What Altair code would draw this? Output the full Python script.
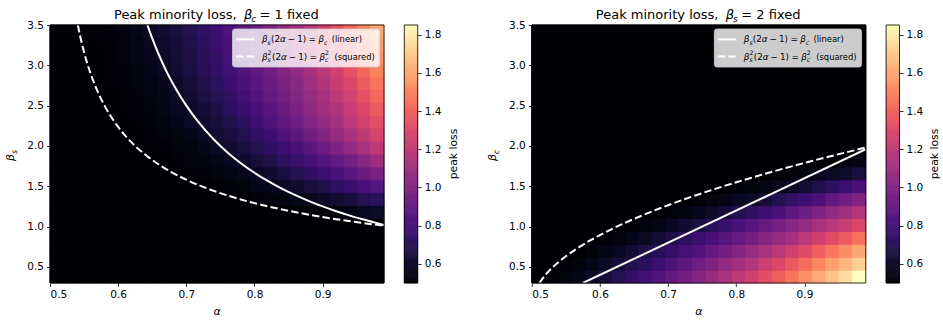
import altair as alt
import pandas as pd

FONT = "DejaVu Sans"

# ---------------- data ----------------
alpha_centers = [0.5098, 0.5294, 0.5490, 0.5686, 0.5882, 0.6078, 0.6274, 0.6470, 0.6666, 0.6862,
                 0.7058, 0.7254, 0.7450, 0.7646, 0.7842, 0.8038, 0.8234, 0.8430, 0.8626, 0.8822,
                 0.9018, 0.9214, 0.9410, 0.9606, 0.9802]
beta_centers = [0.38, 0.54, 0.70, 0.86, 1.02, 1.18, 1.34, 1.50, 1.66, 1.82,
                1.98, 2.14, 2.30, 2.46, 2.62, 2.78, 2.94, 3.10, 3.26, 3.42]

# rows: bottom (beta=0.38) to top (beta=3.42); columns: alpha low -> high
left_loss = [
    [0.50] * 25,
    [0.50] * 25,
    [0.50] * 25,
    [0.50] * 25,
    [0.50] * 25,
    [0.50] * 19 + [0.51, 0.53, 0.54, 0.56, 0.58, 0.60],
    [0.50] * 15 + [0.51, 0.53, 0.54, 0.56, 0.57, 0.60, 0.62, 0.65, 0.69, 0.72],
    [0.50] * 12 + [0.51, 0.52, 0.53, 0.55, 0.57, 0.59, 0.62, 0.65, 0.68, 0.72, 0.76, 0.81, 0.85],
    [0.50] * 10 + [0.51, 0.52, 0.53, 0.55, 0.57, 0.59, 0.62, 0.65, 0.69, 0.73, 0.77, 0.82, 0.87, 0.92, 0.97],
    [0.50] * 9 + [0.51, 0.53, 0.54, 0.56, 0.58, 0.61, 0.64, 0.68, 0.72, 0.76, 0.80, 0.85, 0.90, 0.95, 1.02, 1.09],
    [0.50] * 7 + [0.51, 0.51, 0.53, 0.54, 0.56, 0.59, 0.62, 0.65, 0.69, 0.73, 0.77, 0.81, 0.87, 0.93, 0.99, 1.06, 1.13, 1.20],
    [0.50] * 7 + [0.51, 0.53, 0.54, 0.56, 0.59, 0.62, 0.65, 0.69, 0.73, 0.77, 0.83, 0.88, 0.94, 1.00, 1.07, 1.13, 1.20, 1.28],
    [0.50] * 6 + [0.51, 0.52, 0.54, 0.56, 0.59, 0.62, 0.65, 0.68, 0.72, 0.78, 0.83, 0.88, 0.94, 1.00, 1.06, 1.12, 1.19, 1.26, 1.33],
    [0.50] * 5 + [0.51, 0.52, 0.53, 0.55, 0.58, 0.60, 0.63, 0.67, 0.72, 0.76, 0.81, 0.87, 0.92, 0.98, 1.04, 1.10, 1.16, 1.23, 1.30, 1.38],
    [0.50] * 5 + [0.51, 0.52, 0.54, 0.56, 0.59, 0.62, 0.66, 0.70, 0.74, 0.79, 0.84, 0.90, 0.95, 1.01, 1.07, 1.13, 1.20, 1.27, 1.34, 1.42],
    [0.50] * 4 + [0.51, 0.52, 0.53, 0.55, 0.57, 0.60, 0.64, 0.68, 0.72, 0.77, 0.82, 0.87, 0.92, 0.97, 1.03, 1.10, 1.16, 1.23, 1.30, 1.38, 1.46],
    [0.50] * 4 + [0.51, 0.52, 0.54, 0.56, 0.59, 0.62, 0.66, 0.70, 0.74, 0.79, 0.84, 0.89, 0.94, 1.00, 1.06, 1.12, 1.19, 1.26, 1.34, 1.42, 1.50],
    [0.50] * 4 + [0.51, 0.53, 0.55, 0.57, 0.60, 0.63, 0.67, 0.71, 0.75, 0.80, 0.85, 0.90, 0.96, 1.02, 1.08, 1.15, 1.22, 1.29, 1.36, 1.45, 1.53],
    [0.50] * 3 + [0.51, 0.51, 0.53, 0.55, 0.58, 0.61, 0.64, 0.68, 0.72, 0.77, 0.81, 0.86, 0.92, 0.97, 1.03, 1.10, 1.17, 1.24, 1.32, 1.39, 1.48, 1.57],
    [0.50] * 2 + [0.51, 0.51, 0.52, 0.54, 0.56, 0.59, 0.62, 0.65, 0.69, 0.73, 0.78, 0.83, 0.88, 0.93, 0.99, 1.06, 1.12, 1.19, 1.26, 1.34, 1.43, 1.51, 1.60],
]

right_loss = [
    [0.50, 0.51, 0.53, 0.56, 0.60, 0.64, 0.69, 0.74, 0.79, 0.84, 0.90, 0.95, 1.01, 1.07, 1.13, 1.20, 1.26, 1.33, 1.39, 1.46, 1.54, 1.61, 1.68, 1.76, 1.85],
    [0.50, 0.50, 0.51, 0.53, 0.56, 0.60, 0.64, 0.68, 0.72, 0.77, 0.83, 0.88, 0.94, 0.99, 1.06, 1.11, 1.17, 1.24, 1.30, 1.37, 1.44, 1.51, 1.58, 1.65, 1.72],
    [0.50] * 4 + [0.52, 0.55, 0.58, 0.62, 0.67, 0.71, 0.75, 0.80, 0.84, 0.90, 0.95, 1.01, 1.07, 1.13, 1.19, 1.26, 1.32, 1.39, 1.46, 1.53, 1.60],
    [0.50] * 5 + [0.51, 0.53, 0.56, 0.59, 0.63, 0.67, 0.72, 0.77, 0.81, 0.86, 0.91, 0.96, 1.02, 1.07, 1.12, 1.19, 1.25, 1.32, 1.38, 1.45],
    [0.50] * 7 + [0.51, 0.53, 0.55, 0.58, 0.62, 0.66, 0.71, 0.76, 0.81, 0.86, 0.91, 0.96, 1.02, 1.07, 1.13, 1.18, 1.24, 1.30],
    [0.50] * 9 + [0.51, 0.52, 0.54, 0.57, 0.60, 0.64, 0.69, 0.73, 0.78, 0.82, 0.88, 0.93, 0.99, 1.05, 1.10, 1.17],
    [0.50] * 12 + [0.51, 0.53, 0.55, 0.58, 0.60, 0.64, 0.69, 0.74, 0.78, 0.82, 0.89, 0.94, 1.00],
    [0.50] * 15 + [0.52, 0.53, 0.55, 0.57, 0.59, 0.63, 0.68, 0.72, 0.77, 0.82],
    [0.50] * 18 + [0.51, 0.53, 0.54, 0.57, 0.59, 0.61, 0.65],
    [0.50] * 22 + [0.52, 0.54, 0.55],
    [0.50] * 25, [0.50] * 25, [0.50] * 25, [0.50] * 25, [0.50] * 25,
    [0.50] * 25, [0.50] * 25, [0.50] * 25, [0.50] * 25, [0.50] * 25,
]

# boundary curves
left_lin_alpha = [0.6429, 0.65, 0.66, 0.67, 0.68, 0.69, 0.70, 0.72, 0.74, 0.76, 0.78, 0.80, 0.82,
                  0.84, 0.86, 0.88, 0.90, 0.92, 0.94, 0.96, 0.98, 0.99]
left_lin_beta = [3.50, 3.333, 3.125, 2.941, 2.778, 2.632, 2.50, 2.273, 2.083, 1.923, 1.786, 1.667, 1.563,
                 1.471, 1.389, 1.316, 1.25, 1.19, 1.136, 1.087, 1.042, 1.020]
left_sq_alpha = [0.5408, 0.545, 0.55, 0.56, 0.57, 0.58, 0.60, 0.62, 0.64, 0.66, 0.68, 0.70, 0.72,
                 0.74, 0.76, 0.78, 0.80, 0.84, 0.88, 0.92, 0.96, 0.99]
left_sq_beta = [3.50, 3.333, 3.162, 2.887, 2.673, 2.50, 2.236, 2.041, 1.890, 1.768, 1.667, 1.581, 1.508,
                1.443, 1.387, 1.336, 1.291, 1.213, 1.147, 1.091, 1.043, 1.010]
right_lin_alpha = [0.575, 0.99]
right_lin_beta = [0.30, 1.96]
right_sq_alpha = [0.51125, 0.515, 0.52, 0.53, 0.54, 0.55, 0.57, 0.60, 0.63, 0.66, 0.70, 0.74, 0.78,
                  0.82, 0.86, 0.90, 0.94, 0.99]
right_sq_beta = [0.30, 0.346, 0.40, 0.490, 0.566, 0.632, 0.748, 0.894, 1.020, 1.131, 1.265, 1.386, 1.497,
                 1.60, 1.697, 1.789, 1.876, 1.980]

x_ticks = [0.5, 0.6, 0.7, 0.8, 0.9]
y_ticks = [0.5, 1.0, 1.5, 2.0, 2.5, 3.0, 3.5]
cbar_ticks = [0.6, 0.8, 1.0, 1.2, 1.4, 1.6, 1.8]

# ---------------- layout / style ----------------
W, H = 334, 258
HALF_A, HALF_B = 0.0098, 0.08
VMIN, VMAX = 0.5, 1.85

color_scale = alt.Scale(scheme="magma", domain=[VMIN, VMAX])
xscale = alt.Scale(domain=[0.5, 0.99], nice=False, zero=False)
yscale = alt.Scale(domain=[0.3, 3.5], nice=False, zero=False)
cb_scale = alt.Scale(domain=[VMIN, VMAX], nice=False, zero=False, clamp=True)

axis_style = dict(domain=False, ticks=True, tickColor="black", tickSize=3.5, tickWidth=0.8,
                  labelFont=FONT, labelFontSize=10.5, labelColor="black", labelPadding=3,
                  grid=False, zindex=1, title=None)
xaxis = alt.Axis(values=x_ticks, format=".1f", **axis_style)
yaxis = alt.Axis(values=y_ticks, format=".1f", **axis_style)
cb_axis = alt.Axis(values=cbar_ticks, format=".1f", orient="right", offset=33.7, **axis_style)


def one():
    return alt.Data(values=[{"k": 0}])


def tx(s, x, y, size, italic=False, align="left", baseline="alphabetic", angle=None, color="black"):
    kw = dict(font=FONT, fontSize=size, align=align, baseline=baseline, color=color)
    if italic:
        kw["fontStyle"] = "italic"
    if angle is not None:
        kw["angle"] = angle
    return alt.Chart(one()).mark_text(**kw).encode(x=alt.value(x), y=alt.value(y), text=alt.value(s))


def heat_df(mat):
    rows = []
    for j, b in enumerate(beta_centers):
        for i, a in enumerate(alpha_centers):
            rows.append(dict(a0=a - HALF_A, a1=a + HALF_A, b0=b - HALF_B, b1=b + HALF_B, v=mat[j][i]))
    return pd.DataFrame(rows)


def legend_parts():
    parts = []
    parts.append(alt.Chart(one()).mark_rect(fill="white", fillOpacity=0.8, stroke="#cccccc",
                                            strokeWidth=0.8, cornerRadius=2.5).encode(
        x=alt.value(182.5), x2=alt.value(329.8), y=alt.value(4), y2=alt.value(42)))
    parts.append(alt.Chart(one()).mark_rule(color="white", strokeWidth=2).encode(
        x=alt.value(186), x2=alt.value(204.4), y=alt.value(14.3)))
    parts.append(alt.Chart(one()).mark_rule(color="white", strokeWidth=2, strokeDash=[7.4, 3.2]).encode(
        x=alt.value(186), x2=alt.value(204.4), y=alt.value(31.6)))
    fs, ss = 8.8, 6.2
    y1, y2 = 17.4, 34.7
    # row 1: beta_s(2a-1)=beta_c (linear)
    parts += [tx("β", 212, y1, fs, True), tx("s", 217.6, y1 + 2.2, ss, True),
              tx("(2", 221, y1, fs), tx("α", 230, y1, fs, True),
              tx("−", 237.8, y1, fs), tx("1)", 247.2, y1, fs), tx("=", 258.6, y1, fs),
              tx("β", 268.4, y1, fs, True), tx("c", 274, y1 + 2.2, ss, True),
              tx("(linear)", 281.7, y1, 8.4)]
    # row 2: squared
    parts += [tx("β", 212, y2, fs, True), tx("s", 217.6, y2 + 2.2, ss, True), tx("2", 217.6, y2 - 4.4, ss),
              tx("(2", 222, y2, fs), tx("α", 231, y2, fs, True),
              tx("−", 238.8, y2, fs), tx("1)", 248.2, y2, fs), tx("=", 259.6, y2, fs),
              tx("β", 269.4, y2, fs, True), tx("c", 275, y2 + 2.2, ss, True), tx("2", 275, y2 - 4.4, ss),
              tx("(squared)", 284.4, y2, 8.4)]
    return parts


def panel(mat, lin_a, lin_b, sq_a, sq_b, sub, fixed):
    backdrop = alt.Chart(one()).mark_rect(fill="#000004").encode(
        x=alt.value(0), x2=alt.value(W), y=alt.value(0), y2=alt.value(H))
    heat = alt.Chart(heat_df(mat)).mark_rect(strokeWidth=1).encode(
        x=alt.X("a0:Q", scale=xscale, axis=xaxis), x2="a1:Q",
        y=alt.Y("b0:Q", scale=yscale, axis=yaxis), y2="b1:Q",
        fill=alt.Fill("v:Q", scale=color_scale, legend=None),
        stroke=alt.Stroke("v:Q", scale=color_scale, legend=None))
    lin = alt.Chart(pd.DataFrame({"a": lin_a, "b": lin_b})).mark_line(
        color="white", strokeWidth=2, clip=True, interpolate="monotone").encode(
        x=alt.X("a:Q", scale=xscale, axis=xaxis), y=alt.Y("b:Q", scale=yscale, axis=yaxis))
    sq = alt.Chart(pd.DataFrame({"a": sq_a, "b": sq_b})).mark_line(
        color="white", strokeWidth=2, strokeDash=[7.4, 3.2], clip=True, interpolate="monotone").encode(
        x=alt.X("a:Q", scale=xscale, axis=xaxis), y=alt.Y("b:Q", scale=yscale, axis=yaxis))
    frame = alt.Chart(one()).mark_rect(fillOpacity=0, stroke="black", strokeWidth=0.8).encode(
        x=alt.value(0), x2=alt.value(W), y=alt.value(0), y2=alt.value(H))
    other = "c" if sub == "s" else "s"
    texts = [
        tx("Peak minority loss,", 64, -6.5, 13),
        tx("β", 194, -6.5, 13, True),
        tx(other, 201.3, -3.5, 9, True),
        tx(fixed, 209.5, -6.5, 13),
        tx("β", -36, 136, 11, True, angle=270),
        tx(sub, -33.3, 129, 7.7, True, angle=270),
        tx("α", 167, 289.5, 11, True, align="center"),
        tx("peak loss", 403.5, 129, 10.8, align="center", baseline="middle", angle=270),
    ]
    inner = alt.layer(backdrop, heat, lin, sq, frame, *legend_parts(), *texts)
    cb = alt.Chart(alt.sequence(0.5, 1.855, 0.005, as_="v")).transform_calculate(
        v2="datum.v + 0.005").mark_rect(strokeWidth=0.6).encode(
        x=alt.value(354.3), x2=alt.value(367.7),
        y=alt.Y("v:Q", scale=cb_scale, axis=cb_axis), y2="v2:Q",
        fill=alt.Fill("v:Q", scale=color_scale, legend=None),
        stroke=alt.Stroke("v:Q", scale=color_scale, legend=None))
    cb_frame = alt.Chart(one()).mark_rect(fillOpacity=0, stroke="black", strokeWidth=0.8).encode(
        x=alt.value(354.3), x2=alt.value(367.7), y=alt.value(0), y2=alt.value(H))
    return alt.layer(inner, cb, cb_frame).resolve_scale(y="independent").properties(width=W, height=H)


left = panel(left_loss, left_lin_alpha, left_lin_beta, left_sq_alpha, left_sq_beta, "s", "= 1 fixed")
right = panel(right_loss, right_lin_alpha, right_lin_beta, right_sq_alpha, right_sq_beta, "c", "= 2 fixed")

chart = alt.hconcat(left, right, spacing=26.8).properties(
    padding={"left": 4, "top": 8, "right": 0, "bottom": 0},
    background="white",
).configure_view(stroke="transparent")

chart.save("out.html", embed_options={"renderer": "svg", "actions": False})
